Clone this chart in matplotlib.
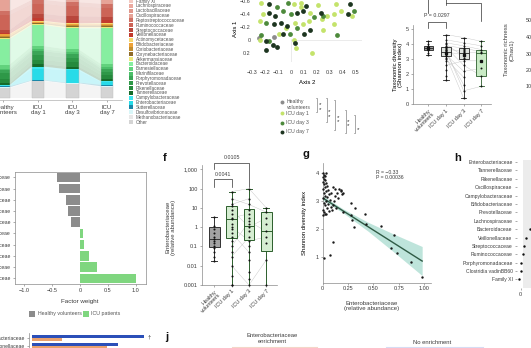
import numpy as np
import matplotlib
matplotlib.use('Agg')
import matplotlib.pyplot as plt
from matplotlib.patches import Rectangle

# ---------------- style ----------------
plt.rcParams['font.family'] = ['Liberation Sans', 'DejaVu Sans']
TC = '#3c3c3c'
SP = '#8a8a8a'
plt.rcParams.update({
    'text.color': TC, 'xtick.color': SP, 'ytick.color': SP,
    'xtick.labelcolor': TC, 'ytick.labelcolor': TC,
    'axes.edgecolor': SP, 'axes.linewidth': 0.5,
    'xtick.major.width': 0.5, 'ytick.major.width': 0.5,
    'xtick.major.size': 1.5, 'ytick.major.size': 1.5,
    'xtick.major.pad': 1.2, 'ytick.major.pad': 1.2,
    'font.size': 4, 'xtick.labelsize': 4, 'ytick.labelsize': 4,
})

# ---------------- data ----------------
# panel a: family composition (%), legend order top -> bottom
families = ['Family XI', 'Lachnospiraceae', 'Lactobacillaceae', 'Oscillospiraceae',
            'Peptostreptococcaceae', 'Ruminococcaceae', 'Streptococcaceae', 'Veillonellaceae',
            'Actinomycetaceae', 'Bifidobacteriaceae', 'Coriobacteriaceae', 'Corynebacteriaceae',
            'Akkermansiaceae', 'Bacteroidaceae', 'Barnesiellaceae', 'Marinifilaceae',
            'Porphyromonadaceae', 'Prevotellaceae', 'Rikenellaceae', 'Tannerellaceae',
            'Campylobacteraceae', 'Enterobacteriaceae', 'Sutterellaceae', 'Desulfovibrionaceae',
            'Methanobacteriaceae', 'Other']
family_colors = ['#f4c9c1', '#eba99f', '#e0968b', '#e6a397', '#cf7064', '#cc6457', '#b9473c', '#c23a2e',
                 '#f7d66b', '#eda23a', '#c28d2e', '#8e6b2a',
                 '#eee77a', '#86eea0', '#62d27d', '#4cbf6a', '#3aa556', '#2e9848', '#258a3d', '#156b2a',
                 '#3fe6ef', '#27dbe8', '#1b87a8', '#d8f6f8', '#e8e8e8', '#d4d4d4']
comp_groups = ['Healthy\nvolunteers', 'ICU\nday 1', 'ICU\nday 3', 'ICU\nday 7']
comp_healthy = [1.5, 18.5, 2.0, 10.0, 3.0, 12.0, 2.0, 1.0, 0.4, 1.5, 0.8, 0.3, 1.0, 20.0, 3.0, 1.5,
                2.0, 4.5, 3.5, 1.5, 0.3, 0.6, 0.8, 0.5, 0.3, 7.5]
comp_day1 = [2.0, 12.3, 2.0, 7.0, 3.0, 8.0, 3.5, 2.0, 0.5, 1.0, 0.5, 0.4, 0.8, 16.5, 2.5, 1.5,
             3.0, 4.0, 3.0, 2.0, 1.5, 9.0, 0.4, 0.3, 0.3, 13.0]
comp_day3 = [2.0, 14.2, 2.0, 7.0, 3.0, 8.0, 3.0, 2.5, 0.5, 1.0, 0.8, 0.5, 1.0, 16.5, 2.0, 1.5,
             3.0, 3.5, 3.5, 2.0, 1.0, 9.5, 0.5, 0.3, 0.2, 11.0]
comp_day7 = [2.0, 16.4, 2.0, 6.0, 3.0, 7.0, 3.0, 2.0, 0.8, 1.0, 0.8, 0.5, 1.0, 28.0, 2.0, 1.5,
             2.5, 2.5, 3.0, 2.0, 0.5, 2.2, 1.2, 0.3, 0.3, 8.5]

# panel b: PCoA
pc_healthy_x = [-0.13, -0.25]
pc_healthy_y = [-0.04, -0.02]
pc_day1_x = [-0.23, 0.02, 0.08, 0.21, 0.35, -0.22, 0.15, 0.28, 0.33, 0.39, 0.47, 0.03, 0.09, 0.14,
             0.24, 0.33, -0.24, -0.09, 0.04, 0.25, 0.16, -0.24, 0.02, -0.04, 0.08]
pc_day1_y = [-0.56, -0.54, -0.50, -0.53, -0.54, -0.39, -0.41, -0.36, -0.39, -0.44, -0.36, -0.26, -0.24,
             -0.29, -0.31, -0.24, -0.29, -0.09, 0.13, -0.14, 0.20, 0.01, 0.01, -0.17, -0.56]
pc_day3_x = [-0.11, -0.02, -0.06, 0.00, 0.25, 0.49, -0.19, 0.18, -0.23, -0.17, -0.01, 0.36, 0.05]
pc_day3_y = [-0.50, -0.56, -0.44, -0.39, -0.36, -0.44, -0.26, -0.34, -0.07, 0.03, -0.09, -0.07, -0.17]
pc_day7_x = [-0.17, 0.12, 0.46, -0.17, -0.12, 0.05, 0.09, 0.23, 0.44, -0.13, -0.08, -0.03, -0.19,
             -0.06, 0.03, -0.14, -0.11, -0.19, 0.10, 0.15]
pc_day7_y = [-0.55, -0.51, -0.55, -0.41, -0.36, -0.41, -0.44, -0.41, -0.39, -0.24, -0.26, -0.21, 0.03,
             -0.09, 0.06, 0.08, 0.11, 0.16, -0.09, -0.14]
pc_xticks = [-0.3, -0.2, -0.1, 0, 0.1, 0.2, 0.3, 0.4, 0.5]
pc_xticklabels = ['\u22120.3', '\u22120.2', '\u22120.1', '0', '0.1', '0.2', '0.3', '0.4', '0.5']
pc_yticks = [-0.6, -0.4, -0.2, 0, 0.2]
pc_yticklabels = ['\u22120.6', '\u22120.4', '\u22120.2', '0', '0.2']
pc_legend = ['Healthy\nvolunteers', 'ICU day 1', 'ICU day 3', 'ICU day 7']
pc_colors = ['#8c8c8c', '#c4e36b', '#4d8a3c', '#1d3520']

# panel d: Shannon index
box_groups = ['Healthy\nvolunteers', 'ICU day 1', 'ICU day 3', 'ICU day 7']
sh_q1 = [3.62, 3.2, 3.0, 1.9]
sh_med = [3.75, 3.5, 3.4, 3.4]
sh_q3 = [3.88, 3.8, 3.75, 3.65]
sh_lo = [3.28, 1.6, 0.4, 1.2]
sh_hi = [4.2, 4.65, 4.45, 4.2]
sh_mean = [3.74, 3.45, 3.3, 2.9]
sh_healthy = [3.3, 3.45, 3.6, 3.65, 3.7, 3.75, 3.8, 3.85, 3.9, 4.0, 4.2]
sh_day1 = [1.6, 1.9, 2.3, 2.6, 2.9, 3.0, 3.1, 3.2, 3.25, 3.3, 3.35, 3.4, 3.45, 3.5, 3.55, 3.6, 3.65,
           3.7, 3.75, 3.8, 3.85, 3.9, 4.0, 4.1, 4.3, 4.65]
sh_day3 = [0.4, 0.9, 1.3, 1.8, 2.2, 2.6, 2.9, 3.0, 3.1, 3.2, 3.3, 3.35, 3.4, 3.5, 3.55, 3.6, 3.7,
           3.75, 3.9, 4.1, 4.45]
sh_day7 = [1.2, 1.9, 2.4, 2.9, 3.4, 3.5, 3.65, 3.9, 4.2]
sh_pair_d1 = [4.65, 4.3, 4.1, 4.0, 3.9, 3.8, 3.7, 3.6, 3.5, 3.4, 3.3, 3.2, 3.0, 2.6]
sh_pair_d3 = [4.45, 4.1, 3.9, 3.2, 3.75, 2.6, 3.5, 0.9, 3.3, 1.3, 2.2, 0.4, 1.8, 2.9]
sh_pair_d7 = [4.2, 3.9, 3.65, np.nan, 3.5, 1.9, 3.4, 1.2, np.nan, np.nan, 2.4, np.nan, np.nan, 2.9]
sh_pvalue = 'P = 0.0297'

# panel e: factor weights
fw_names = ['Ruminococcaceae', 'Lachnospiraceae', 'Oscillospiraceae', 'Rikenellaceae', 'Bacteroidaceae',
            'Streptococcaceae', 'Veillonellaceae', 'Enterococcaceae', 'Lactobacillaceae', 'Enterobacteriaceae']
fw_values = [-0.42, -0.37, -0.25, -0.21, -0.16, 0.06, 0.07, 0.16, 0.30, 1.01]
fw_xticks = [-1.0, -0.5, 0, 0.5, 1.0]
fw_xticklabels = ['\u22121.0', '\u22120.5', '0', '0.5', '1.0']

# panel f: Enterobacteriaceae relative abundance
eb_q1 = [0.09, 0.27, 0.22, 0.06]
eb_med = [0.23, 2.5, 1.1, 0.65]
eb_q3 = [1.0, 13.0, 8.5, 6.0]
eb_lo = [0.018, 0.001, 0.001, 0.001]
eb_hi = [3.5, 70.0, 100.0, 10.0]
eb_healthy = [0.018, 0.03, 0.05, 0.08, 0.1, 0.15, 0.2, 0.25, 0.3, 0.5, 0.8, 1.2, 3.5]
eb_day1 = [0.001, 0.001, 0.003, 0.01, 0.03, 0.05, 0.1, 0.2, 0.3, 0.5, 0.8, 1.0, 1.5, 2.5, 3, 5, 8, 12,
           15, 30, 70]
eb_day3 = [0.001, 0.002, 0.005, 0.02, 0.05, 0.1, 0.2, 0.3, 0.6, 1.0, 1.5, 2, 3, 5, 8, 15, 30, 100]
eb_day7 = [0.001, 0.02, 0.15, 0.3, 0.6, 1.5, 3, 6, 10]
eb_pair_d1 = [70, 30, 15, 8, 3, 1, 0.5, 0.1, 0.03, 0.01]
eb_pair_d3 = [100, 15, 30, 1.0, 5, 0.2, 0.05, 2, 0.3, 0.001]
eb_pair_d7 = [10, 6, np.nan, 3, np.nan, 0.3, np.nan, 0.6, np.nan, 0.02]
eb_yticks = [0.001, 0.01, 0.1, 1, 10, 100, 1000]
eb_yticklabels = ['0.001', '0.01', '0.1', '1', '10', '100', '1,000']
eb_p1, eb_p2 = '0.0041', '0.0105'

# panel g: correlation
g_x = [0.00, 0.01, 0.02, 0.03, 0.00, 0.01, 0.02, 0.00, 0.03, 0.01, 0.04, 0.02, 0.00, 0.05, 0.03, 0.01,
       0.06, 0.02, 0.04, 0.00, 0.07, 0.03, 0.01, 0.05, 0.02, 0.08, 0.04, 0.00, 0.06, 0.01, 0.03,
       0.10, 0.12, 0.14, 0.16, 0.18, 0.19, 0.20, 0.18, 0.12, 0.15, 0.10, 0.08, 0.11, 0.13, 0.09, 0.20,
       0.02, 0.00, 0.01, 0.07, 0.10,
       0.28, 0.32, 0.28, 0.29, 0.31, 0.42, 0.43, 0.57, 0.70, 0.67, 0.73, 0.87, 0.98]
g_y = [4.02, 3.95, 3.9, 4.0, 3.85, 3.8, 3.75, 3.7, 3.65, 3.6, 3.55, 3.5, 3.45, 3.4, 3.35, 3.3,
       3.25, 3.2, 3.15, 3.1, 3.05, 3.0, 2.95, 2.9, 2.85, 2.8, 2.75, 2.7, 2.65, 2.6, 2.55,
       3.5, 3.45, 3.3, 3.45, 3.35, 3.25, 3.3, 3.4, 3.2, 3.1, 2.85, 3.3, 3.0, 2.75, 2.7, 2.6,
       2.55, 2.5, 0.96, 1.08, 1.56,
       2.93, 2.75, 2.51, 2.34, 2.1, 2.55, 2.2, 2.12, 1.78, 1.32, 1.14, 0.83, 0.31]
g_fit_intercept = 3.12
g_fit_slope = -2.3
g_ci_x = [0.0, 0.2, 0.45, 0.7, 0.98]
g_ci_half = [0.08, 0.07, 0.16, 0.32, 0.52]
g_stats = 'R = \u22120.33\nP = 0.00036'
g_xticks = [0, 0.25, 0.5, 0.75, 1.0]
g_xticklabels = ['0', '0.25', '0.50', '0.75', '1.00']

# panel h
h_names = ['Enterobacteriaceae', 'Tannerellaceae', 'Rikenellaceae', 'Oscillospiraceae',
           'Campylobacteraceae', 'Bifidobacteriaceae', 'Prevotellaceae', 'Lachnospiraceae',
           'Bacteroidaceae', 'Veillonellaceae', 'Streptococcaceae', 'Ruminococcaceae',
           'Porphyromonadaceae', 'Clostridia vadinBB60', 'Family XI']
h_values = [5.0, 4.5, 4.0, 3.6, 3.2, 2.8, 2.4, 2.0, 0.93, 0.5, 0.36, 0.26, 0.03, 0.0, -0.14]

# panel i
i_names = ['Enterobacteriaceae', 'Veillonellaceae']
i_blue = [1.87, 1.44]
i_orange = [0.5, 1.25]

# ---------------- figure ----------------
W, H = 531, 348
fig = plt.figure(figsize=(W / 100, H / 100), dpi=100)


def axpx(x0, y0, w, h):
    return fig.add_axes([x0 / W, 1 - (y0 + h) / H, w / W, h / H])


# ---- panel a ----
ax = axpx(-20, -30, 142, 130)
M = np.array([comp_healthy, comp_day1, comp_day3, comp_day7]).T
xpos = np.arange(4)
bw = 0.35
bottom = np.zeros(4)
for k in range(len(families) - 1, -1, -1):
    vals = M[k]
    ax.bar(xpos, vals, bw, bottom=bottom, color=family_colors[k], edgecolor='none', zorder=3)
    for i in range(3):
        xs = [xpos[i] + bw / 2, xpos[i + 1] - bw / 2, xpos[i + 1] - bw / 2, xpos[i] + bw / 2]
        ys = [bottom[i], bottom[i + 1], bottom[i + 1] + vals[i + 1], bottom[i] + vals[i]]
        ax.fill(xs, ys, color=family_colors[k], alpha=0.25, lw=0, zorder=2)
    bottom = bottom + vals
ax.bar(xpos, bottom, bw, fill=False, edgecolor='#bdbdbd', lw=0.3, zorder=4)
ax.set_xlim(-0.681, 3.435)
ax.set_ylim(-1.6, 100)
for s in ['top', 'right', 'left']:
    ax.spines[s].set_visible(False)
ax.spines['bottom'].set_color('#b0b0b0')
ax.set_yticks([])
ax.set_xticks(xpos)
ax.set_xticklabels(comp_groups, fontsize=4.3, linespacing=1.15)
ax.tick_params(axis='x', length=1.5, pad=2)

# ---- panel b ----
ax = axpx(252, -5, 110, 67)
ax.axhline(0, xmin=0.355, color='#dcdcdc', lw=0.4, zorder=0)
ax.axvline(0, ymin=0, ymax=0.336, color='#dcdcdc', lw=0.4, zorder=0)
for xs, ys, c in [(pc_healthy_x, pc_healthy_y, pc_colors[0]), (pc_day1_x, pc_day1_y, pc_colors[1]),
                  (pc_day3_x, pc_day3_y, pc_colors[2]), (pc_day7_x, pc_day7_y, pc_colors[3])]:
    ax.scatter(xs, ys, s=12, color=c, linewidths=0, zorder=3)
ax.set_xlim(-0.302, 0.550)
ax.set_ylim(0.346, -0.685)
for s in ax.spines.values():
    s.set_visible(False)
ax.set_xticks(pc_xticks)
ax.set_xticklabels(pc_xticklabels, fontsize=3.9)
ax.set_yticks(pc_yticks)
ax.set_yticklabels(pc_yticklabels, fontsize=3.9)
ax.tick_params(length=0, pad=1)
ax.tick_params(axis='x', pad=6)
ax.set_xlabel('Axis 2', fontsize=4.3, labelpad=3)
ax.set_ylabel('Axis 1', fontsize=4.3, labelpad=1)

# ---- panel d ----
ax = axpx(412.7, 25, 78, 79.3)
pos = np.arange(4)
for a, b, c in zip(sh_pair_d1, sh_pair_d3, sh_pair_d7):
    ax.plot([1, 2, 3], [a, b, c], color='#c4c4c4', lw=0.3, zorder=1)
stats = [dict(q1=sh_q1[i], med=sh_med[i], q3=sh_q3[i], whislo=sh_lo[i], whishi=sh_hi[i],
              mean=sh_mean[i], fliers=[]) for i in range(4)]
faces = ['#9a9a9a', '#dfe3df', '#dfe3df', '#c9ebc5']
edges = ['#222222', '#222222', '#222222', '#2c5e2c']
bp = ax.bxp(stats, positions=pos, widths=0.55, patch_artist=True, showmeans=True,
            meanprops=dict(marker='s', markersize=1.4, markerfacecolor='#111', markeredgecolor='#111'),
            medianprops=dict(color='#222', lw=0.6), whiskerprops=dict(lw=0.6),
            capprops=dict(lw=0.6), boxprops=dict(lw=0.6), capwidths=0.3)
for i in range(4):
    bp['boxes'][i].set_facecolor(faces[i])
    bp['boxes'][i].set_edgecolor(edges[i])
    bp['medians'][i].set_color(edges[i])
    for j in (2 * i, 2 * i + 1):
        bp['whiskers'][j].set_color(edges[i])
        bp['caps'][j].set_color(edges[i])
for p, vals in zip(pos, [sh_healthy, sh_day1, sh_day3, sh_day7]):
    ax.scatter(np.full(len(vals), p), vals, s=2.0, color='#111', linewidths=0, zorder=4)
ax.set_xlim(-0.89, 3.53)
ax.set_ylim(0, 5.29)
ax.spines['top'].set_visible(False)
ax.spines['right'].set_visible(False)
ax.set_yticks([0, 1, 2, 3, 4, 5])
ax.set_xticks(pos)
ax.set_xticklabels(box_groups, rotation=45, ha='right', rotation_mode='anchor', fontsize=4,
                   linespacing=1.0)
ax.set_ylabel('Taxonomic diversity\n(Shannon index)', fontsize=4.3, labelpad=2, linespacing=1.1)
bk = dict(color='#333', lw=0.5, clip_on=False)
ax.plot([0, 0, 1, 1], [5.1, 5.5, 5.5, 5.1], **bk)
ax.text(0.5, 5.75, sh_pvalue, ha='center', va='bottom', fontsize=3.8)
ax.plot([0, 0], [6.07, 8.5], **bk)
ax.plot([1, 1, 3, 3], [6.6, 6.77, 6.77, 5.57], **bk)
ax.plot([1, 1], [6.77, 8.5], **bk)

# ---- panel e ----
ax = axpx(15, 171.7, 131, 112.3)
ycat = np.arange(len(fw_values))
ax.barh(ycat, fw_values, height=0.85,
        color=['#8c8c8c' if v < 0 else '#7fd67f' for v in fw_values])
ax.set_xlim(-1.167, 1.185)
ax.set_ylim(9.5, -0.5)
ax.set_xticks(fw_xticks)
ax.set_xticklabels(fw_xticklabels)
ax.set_yticks(ycat)
ax.set_yticklabels(fw_names, fontsize=3.6)
ax.tick_params(length=1.5, pad=1.5)

# ---- panel f ----
ax = axpx(201.7, 165, 75, 120)
for a, b, c in zip(eb_pair_d1, eb_pair_d3, eb_pair_d7):
    ax.plot([1, 2, 3], [a, b, c], color='#c4c4c4', lw=0.3, zorder=1)
stats = [dict(q1=eb_q1[i], med=eb_med[i], q3=eb_q3[i], whislo=eb_lo[i], whishi=eb_hi[i],
              fliers=[]) for i in range(4)]
faces = ['#a3a3a3', '#d5edd1', '#d5edd1', '#d5edd1']
edges = ['#333333', '#2c5e2c', '#2c5e2c', '#2c5e2c']
bp = ax.bxp(stats, positions=pos, widths=0.62, patch_artist=True,
            medianprops=dict(lw=0.7), whiskerprops=dict(lw=0.7),
            capprops=dict(lw=0.7), boxprops=dict(lw=0.7), capwidths=0.35)
for i in range(4):
    bp['boxes'][i].set_facecolor(faces[i])
    bp['boxes'][i].set_edgecolor(edges[i])
    bp['medians'][i].set_color(edges[i])
    for j in (2 * i, 2 * i + 1):
        bp['whiskers'][j].set_color(edges[i])
        bp['caps'][j].set_color(edges[i])
for p, vals in zip(pos, [eb_healthy, eb_day1, eb_day3, eb_day7]):
    ax.scatter(np.full(len(vals), p), vals, s=2.2, color='#111', linewidths=0, zorder=4,
               clip_on=False)
ax.set_yscale('log')
ax.set_ylim(0.001, 10 ** 3.223)
ax.set_xlim(-0.73, 3.6)
ax.spines['top'].set_visible(False)
ax.spines['right'].set_visible(False)
ax.set_yticks(eb_yticks)
ax.set_yticklabels(eb_yticklabels)
ax.minorticks_off()
ax.set_xticks(pos)
ax.set_xticklabels(box_groups, rotation=45, ha='right', rotation_mode='anchor', fontsize=4,
                   linespacing=1.0)
ax.plot([0, 0, 1, 1], [123, 300, 300, 123], **bk)
ax.text(0.5, 420, eb_p1, ha='center', va='bottom', fontsize=3.8)
ax.plot([0, 0, 2, 2], [1000, 2170, 2170, 123], **bk)
ax.text(1.0, 3000, eb_p2, ha='center', va='bottom', fontsize=3.8)

# ---- panel g ----
ax = axpx(322.7, 163.3, 108, 119.4)
xf = np.array(g_ci_x)
yf = g_fit_intercept + g_fit_slope * xf
ax.fill_between(xf, yf - np.array(g_ci_half), yf + np.array(g_ci_half), color='#a9dccf',
                alpha=0.75, lw=0, zorder=1)
ax.plot(xf, yf, color='#2f5b45', lw=1.0, zorder=2)
ax.scatter(g_x, g_y, s=3.0, color='#1a1a1a', linewidths=0, zorder=3, clip_on=False)
ax.set_xlim(0, 1.064)
ax.set_ylim(0.093, 4.357)
ax.spines['top'].set_visible(False)
ax.spines['right'].set_visible(False)
ax.set_xticks(g_xticks)
ax.set_xticklabels(g_xticklabels)
ax.set_yticks([1, 2, 3, 4])
ax.text(0.53, 4.12, g_stats, ha='left', va='top', fontsize=3.7, linespacing=1.05)
ax.set_ylabel('Shannon diversity index', fontsize=4.3, labelpad=6)

# ---- panel h ----
ax = axpx(516.7, 160, 60, 128)
yh = np.arange(len(h_values))
ax.axvspan(0.23, 6, color='#ececec', lw=0, zorder=0)
ax.scatter(h_values, yh, s=3, color='#111', linewidths=0, zorder=3)
ax.set_xlim(-0.4, 5.6)
ax.set_ylim(15.02, -0.25)
for s in ax.spines.values():
    s.set_visible(False)
ax.set_yticks(yh)
ax.set_yticklabels(h_names, fontsize=3.6)
ax.set_xticks([0, 2, 4])
ax.tick_params(length=1.5, pad=1.5)

# ---- panel i ----
ax = axpx(29.3, 333, 140, 20)
yi = np.arange(len(i_names))
ax.barh(yi - 0.21, i_blue, height=0.42, color='#2b4fb8')
ax.barh(yi + 0.21, i_orange, height=0.42, color='#e9a06c')
ax.set_xlim(-0.04, 2.293)
ax.set_ylim(1.96, -0.707)
for s in ['top', 'right', 'bottom']:
    ax.spines[s].set_visible(False)
ax.set_xticks([])
ax.set_yticks(yi)
ax.set_yticklabels(i_names, fontsize=3.6)
ax.tick_params(length=1.5, pad=1.5)

# ---------------- overlay: legends, letters, free text ----------------
ov = fig.add_axes([0, 0, 1, 1])
ov.set_xlim(0, W)
ov.set_ylim(H, 0)
ov.axis('off')

# legend a
for i, (name, c) in enumerate(zip(families, family_colors)):
    y = 1 + i * 4.84
    ov.add_patch(Rectangle((128.5, y - 2.0), 4.8, 4.0, facecolor=c, edgecolor='none'))
    ov.text(135.5, y, name, fontsize=3.3, va='center', ha='left', color='#555')

# legend b
for y, lab, c in zip([101.7, 113.3, 122.7, 131.7], pc_legend, pc_colors):
    ov.scatter([282], [y], s=8, color=c, linewidths=0)
    ov.text(286.5, y + (2.8 if '\n' in lab else 0), lab, fontsize=3.7, va='center', ha='left',
            linespacing=1.1, color='#555')
brackets = [(317, 98, 112), (327, 98, 122), (335, 100, 130), (346, 110, 133), (355, 115, 133)]
star_pos = [[(320.5, 103), (320.5, 108)], [(329.5, 110), (329.5, 115)], [(338, 116.7), (338, 120.7)],
            [(348.5, 120), (348.5, 124)], [(358, 128.3)]]
for (bx, y0, y1), stars in zip(brackets, star_pos):
    ov.plot([bx - 1.5, bx, bx, bx - 1.5], [y0, y0, y1, y1], color='#666', lw=0.4)
    for sx, sy in stars:
        ov.text(sx, sy + 1.2, '*', fontsize=4.5, ha='center', va='center', color='#333')

# right-edge partial panel (Chao1)
ov.text(509, 50, 'Taxonomic richness\n(Chao1)', rotation=90, fontsize=4.3, ha='center', va='center',
        linespacing=1.1)
for y, t in zip([20.7, 37.5, 54, 70.5, 87], ['500', '400', '300', '200', '100']):
    ov.text(526, y, t, fontsize=3.9, ha='left', va='center')

# legend e
ov.add_patch(Rectangle((29, 310.5), 6, 6, facecolor='#8c8c8c', edgecolor='none'))
ov.text(37.5, 313.5, 'Healthy volunteers', fontsize=3.8, va='center', color='#555')
ov.add_patch(Rectangle((82.5, 310.5), 6, 6, facecolor='#7fd67f', edgecolor='none'))
ov.text(91, 313.5, 'ICU patients', fontsize=3.8, va='center', color='#555')
ov.text(80, 301, 'Factor weight', fontsize=4.5, ha='center', va='center')

# panel f labels
ov.text(165, 158, 'f', fontsize=8, fontweight='bold', ha='center', va='center', color='#111')
ov.text(171, 227, 'Enterobacteriaceae\n(relative abundance)', rotation=90, fontsize=4.3,
        ha='center', va='center', linespacing=1.1)

# panel g labels
ov.text(306, 154, 'g', fontsize=8, fontweight='bold', ha='center', va='center', color='#111')
ov.text(372, 306, 'Enterobacteriaceae\n(relative abundance)', fontsize=4.3, ha='center', va='center',
        linespacing=1.1)

# panel h letter
ov.text(458, 158, 'h', fontsize=8, fontweight='bold', ha='center', va='center', color='#111')

# panel i / j
ov.text(149.5, 337, '\u2020', fontsize=4.5, ha='center', va='center', color='#333')
ov.text(167, 337.5, 'j', fontsize=8, fontweight='bold', ha='center', va='center', color='#111')
ov.text(272, 338.5, 'Enterobacteriaceae\nenrichment', fontsize=4.2, ha='center', va='center',
        linespacing=1.1)
ov.text(432, 342, 'No enrichment', fontsize=4.2, ha='center', va='center')
ov.plot([233, 317], [347.5, 347.5], color='#f3d6c8', lw=1.5)
ov.plot([387, 483], [347.5, 347.5], color='#d6dcf3', lw=1.5)

fig.savefig('out.png', dpi=100)
